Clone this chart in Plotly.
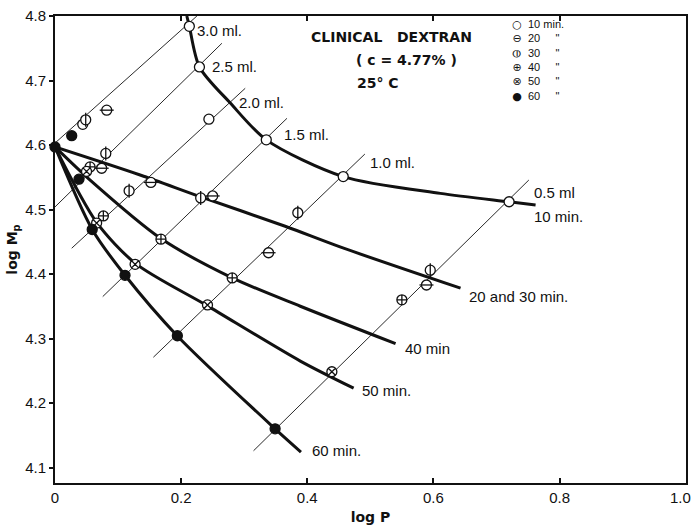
import plotly.graph_objects as go

# ---------------- data ----------------
# thick curves (constant time)
c10_x = [0.209, 0.213, 0.229, 0.278, 0.335, 0.457, 0.611, 0.720, 0.762]
c10_y = [4.800, 4.784, 4.721, 4.665, 4.608, 4.551, 4.525, 4.512, 4.507]
c20_x = [0.0, 0.135, 0.230, 0.365, 0.452, 0.643]
c20_y = [4.597, 4.5535, 4.520, 4.474, 4.442, 4.378]
c40_x = [0.0, 0.053, 0.168, 0.281, 0.389, 0.540]
c40_y = [4.597, 4.548, 4.455, 4.394, 4.350, 4.292]
c50_x = [0.0, 0.066, 0.128, 0.241, 0.389, 0.4735]
c50_y = [4.597, 4.480, 4.416, 4.351, 4.265, 4.223]
c60_x = [0.0, 0.059, 0.111, 0.194, 0.349, 0.390]
c60_y = [4.597, 4.469, 4.398, 4.304, 4.160, 4.124]
curve_names = ["10 min.", "20 and 30 min.", "40 min", "50 min.", "60 min."]

# thin iso-volume lines
vol_names = ["3.0 ml.", "2.5 ml.", "2.0 ml.", "1.5 ml.", "1.0 ml.", "0.5 ml"]
vol_x0 = [0.0, 0.0, 0.0265, 0.0757, 0.156, 0.3148]
vol_y0 = [4.603, 4.504, 4.440, 4.365, 4.271, 4.126]
vol_x1 = [0.225, 0.2646, 0.3016, 0.3678, 0.4913, 0.7513]
vol_y1 = [4.800, 4.7577, 4.6879, 4.6414, 4.586, 4.5457]

# measured points
m10_x = [0.213, 0.229, 0.335, 0.457, 0.720, 0.244, 0.044]
m10_y = [4.784, 4.721, 4.608, 4.551, 4.512, 4.640, 4.632]
m20_x = [0.082, 0.074, 0.152, 0.250, 0.3386, 0.589]
m20_y = [4.654, 4.564, 4.542, 4.521, 4.433, 4.383]
m30_x = [0.0487, 0.0805, 0.1175, 0.231, 0.385, 0.595]
m30_y = [4.639, 4.587, 4.529, 4.518, 4.495, 4.406]
m40_x = [0.0556, 0.0767, 0.168, 0.281, 0.550]
m40_y = [4.566, 4.490, 4.454, 4.394, 4.360]
m50_x = [0.050, 0.066, 0.127, 0.2418, 0.439]
m50_y = [4.559, 4.479, 4.415, 4.352, 4.2485]
m60_x = [0.0, 0.0265, 0.038, 0.059, 0.111, 0.194, 0.349]
m60_y = [4.597, 4.6144, 4.547, 4.469, 4.398, 4.3043, 4.160]

x_ticks = [0, 0.2, 0.4, 0.6, 0.8, 1.0]
x_ticktext = ["0", "0.2", "0.4", "0.6", "0.8", "1.0"]
y_ticks = [4.1, 4.2, 4.3, 4.4, 4.5, 4.6, 4.7, 4.8]
y_ticktext = ["4.1", "4.2", "4.3", "4.4", "4.5", "4.6", "4.7", "4.8"]

legend_symbols = ["○", "⊖", "⦶", "⊕", "⊗", "●"]
legend_texts = ["10 min.", '20&nbsp;&nbsp;&nbsp;&nbsp;&nbsp;"', '30&nbsp;&nbsp;&nbsp;&nbsp;&nbsp;"',
                '40&nbsp;&nbsp;&nbsp;&nbsp;&nbsp;"', '50&nbsp;&nbsp;&nbsp;&nbsp;&nbsp;"',
                '60&nbsp;&nbsp;&nbsp;&nbsp;&nbsp;"']

# label placement (annotation anchors)
vol_lab_x = [0.222, 0.246, 0.288, 0.360, 0.497, 0.757]
vol_lab_y = [4.777, 4.722, 4.666, 4.617, 4.573, 4.526]
cur_lab_x = [0.757, 0.6535, 0.5513, 0.483, 0.4048]
cur_lab_y = [4.489, 4.365, 4.285, 4.220, 4.126]

FONT = "Liberation Sans"
INK = "#111111"
fig = go.Figure()

for i in range(len(vol_names)):
    fig.add_trace(go.Scatter(x=[vol_x0[i], vol_x1[i]], y=[vol_y0[i], vol_y1[i]],
                             mode="lines", line=dict(color="#2a2a2a", width=1),
                             showlegend=False, hoverinfo="skip"))

for cx, cy in [(c10_x, c10_y), (c20_x, c20_y), (c40_x, c40_y), (c50_x, c50_y), (c60_x, c60_y)]:
    fig.add_trace(go.Scatter(x=cx, y=cy, mode="lines",
                             line=dict(color=INK, width=3, shape="spline", smoothing=0.8),
                             showlegend=False, hoverinfo="skip"))

MS = 10
mk_line = dict(color=INK, width=1.3)
def pts(x, y, symbol, color="white", size=MS):
    fig.add_trace(go.Scatter(x=x, y=y, mode="markers", cliponaxis=False,
                             marker=dict(symbol=symbol, size=size, color=color, line=mk_line),
                             showlegend=False))

pts(m10_x, m10_y, "circle")
pts(m20_x, m20_y, "circle")
pts(m20_x, m20_y, "line-ew", size=MS)
pts(m30_x, m30_y, "circle")
pts(m30_x, m30_y, "line-ns", size=MS)
pts(m40_x, m40_y, "circle-cross")
pts(m50_x, m50_y, "circle-x")
pts(m60_x, m60_y, "circle", color=INK)

ann = []
for i, t in enumerate(vol_names):
    ann.append(dict(x=vol_lab_x[i], y=vol_lab_y[i], text=t, xanchor="left", yanchor="middle",
                    showarrow=False, font=dict(family=FONT, size=15, color=INK)))
for i, t in enumerate(curve_names):
    ann.append(dict(x=cur_lab_x[i], y=cur_lab_y[i], text=t, xanchor="left", yanchor="middle",
                    showarrow=False, font=dict(family=FONT, size=15, color=INK)))

# title block
ann.append(dict(x=0.533, y=4.7667, text="<b>CLINICAL   DEXTRAN</b>", showarrow=False,
                xanchor="center", yanchor="middle", font=dict(family="DejaVu Sans", size=14, color=INK)))
ann.append(dict(x=0.557, y=4.7318, text="<b>( c = 4.77% )</b>", showarrow=False,
                xanchor="center", yanchor="middle", font=dict(family="DejaVu Sans", size=14, color=INK)))
ann.append(dict(x=0.476, y=4.696, text="<b>25° C</b>", showarrow=False,
                xanchor="left", yanchor="middle", font=dict(family="DejaVu Sans", size=14, color=INK)))

# legend (multi-line text blocks)
LEG_TOP = 4.800
ann.append(dict(x=0.7328, y=LEG_TOP, text="<br>".join(legend_symbols), showarrow=False,
                xanchor="center", yanchor="top", align="center",
                font=dict(family="DejaVu Sans", size=11, color=INK)))
ann.append(dict(x=0.747, y=LEG_TOP, text="<br>".join(legend_texts), showarrow=False,
                xanchor="left", yanchor="top", align="left",
                font=dict(family=FONT, size=11, color=INK)))

# last x tick label sits at the right edge: draw it right-aligned so it stays inside the page
ann.append(dict(x=x_ticks[-1], y=0, xref="x", yref="paper", text=x_ticktext[-1],
                showarrow=False, xanchor="right", yanchor="top", xshift=7, yshift=-4,
                font=dict(family=FONT, size=15, color=INK)))
x_ticktext_axis = x_ticktext[:-1] + [" "]

fig.update_layout(
    width=694, height=525,
    margin=dict(l=55, r=8, t=16, b=42, autoexpand=False),
    paper_bgcolor="white", plot_bgcolor="white",
    showlegend=False,
    annotations=ann,
    xaxis=dict(range=[0, 1.0005], tickvals=x_ticks, ticktext=x_ticktext_axis,
               ticks="inside", ticklen=5, tickwidth=1.5, tickcolor=INK,
               showline=True, linewidth=2, linecolor=INK, mirror="ticks",
               showgrid=False, zeroline=False, ticklabeloverflow="allow", automargin=False,
               tickfont=dict(family=FONT, size=15, color=INK),
               title=dict(text="<b>log P</b>", standoff=10,
                          font=dict(family="DejaVu Sans", size=14, color=INK))),
    yaxis=dict(range=[4.076, 4.8], tickvals=y_ticks, ticktext=y_ticktext,
               ticks="outside", ticklen=4, tickwidth=1.5, tickcolor=INK,
               showline=True, linewidth=2, linecolor=INK, mirror=True,
               showgrid=False, zeroline=False, ticklabeloverflow="allow", automargin=False,
               tickfont=dict(family=FONT, size=15, color=INK),
               title=dict(text="<b>log M<sub>p</sub></b>", standoff=4,
                          font=dict(family="DejaVu Sans", size=14, color=INK))),
    yaxis2=dict(range=[4.076, 4.8], overlaying="y", side="right", tickvals=y_ticks,
                ticks="inside", ticklen=5, tickwidth=1.5, tickcolor=INK, automargin=False,
                showticklabels=False, showgrid=False, zeroline=False, showline=False),
)

fig.write_html("out.html")
